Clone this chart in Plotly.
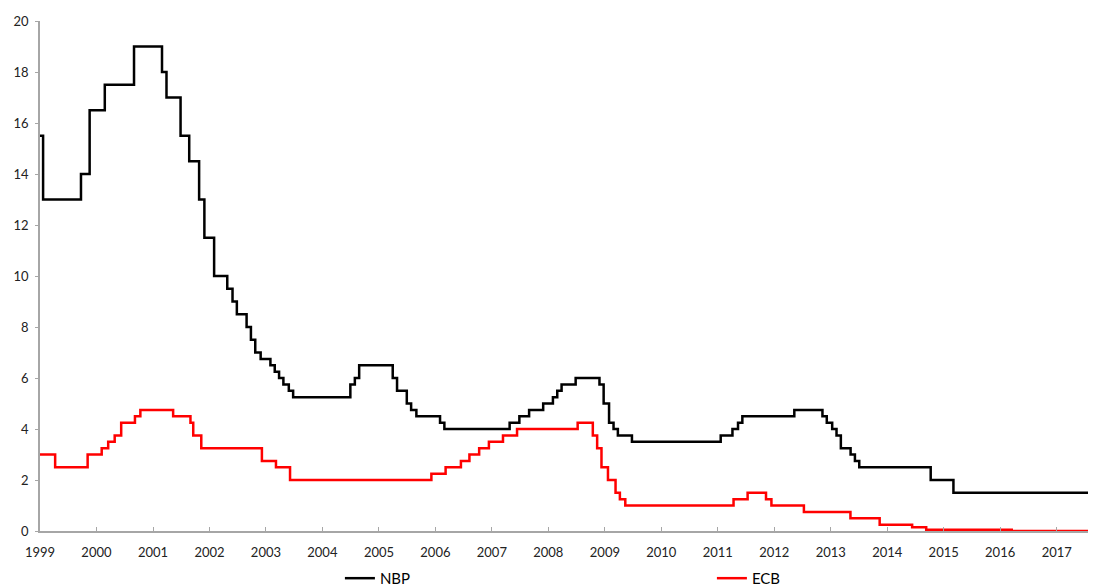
import plotly.graph_objects as go

# NBP reference rate (change dates and new levels)
nbp_dates = [
    "1999-01-01", "1999-01-21", "1999-09-23", "1999-11-18", "2000-02-24", "2000-08-31",
    "2001-02-28", "2001-03-29", "2001-06-28", "2001-08-23", "2001-10-26", "2001-11-29",
    "2002-01-31", "2002-04-26", "2002-05-30", "2002-06-27", "2002-08-29", "2002-09-26",
    "2002-10-24", "2002-11-28", "2003-01-30", "2003-02-27", "2003-03-27", "2003-04-24",
    "2003-05-29", "2003-06-26", "2004-06-30", "2004-07-29", "2004-08-26", "2005-03-31",
    "2005-04-28", "2005-06-30", "2005-07-28", "2005-08-31", "2006-01-31", "2006-02-28",
    "2007-04-26", "2007-06-28", "2007-08-30", "2007-11-29", "2008-01-31", "2008-02-28",
    "2008-03-27", "2008-06-26", "2008-11-27", "2008-12-24", "2009-01-28", "2009-02-26",
    "2009-03-26", "2009-06-25", "2011-01-20", "2011-04-06", "2011-05-12", "2011-06-09",
    "2012-05-10", "2012-11-08", "2012-12-06", "2013-01-10", "2013-02-07", "2013-03-07",
    "2013-05-09", "2013-06-06", "2013-07-04", "2014-10-09", "2015-03-05", "2017-09-15",
]
nbp_rates = [
    15.5, 13.0, 14.0, 16.5, 17.5, 19.0,
    18.0, 17.0, 15.5, 14.5, 13.0, 11.5,
    10.0, 9.5, 9.0, 8.5, 8.0, 7.5,
    7.0, 6.75, 6.5, 6.25, 6.0, 5.75,
    5.5, 5.25, 5.75, 6.0, 6.5, 6.0,
    5.5, 5.0, 4.75, 4.5, 4.25, 4.0,
    4.25, 4.5, 4.75, 5.0, 5.25, 5.5,
    5.75, 6.0, 5.75, 5.0, 4.25, 4.0,
    3.75, 3.5, 3.75, 4.0, 4.25, 4.5,
    4.75, 4.5, 4.25, 4.0, 3.75, 3.25,
    3.0, 2.75, 2.5, 2.0, 1.5, 1.5,
]

# ECB main refinancing rate
ecb_dates = [
    "1999-01-01", "1999-04-09", "1999-11-05", "2000-02-04", "2000-03-17", "2000-04-28",
    "2000-06-09", "2000-09-06", "2000-10-11", "2001-05-11", "2001-08-31", "2001-09-18",
    "2001-11-09", "2002-12-06", "2003-03-07", "2003-06-06", "2005-12-06", "2006-03-08",
    "2006-06-15", "2006-08-09", "2006-10-11", "2006-12-13", "2007-03-14", "2007-06-13",
    "2008-07-09", "2008-10-15", "2008-11-12", "2008-12-10", "2009-01-21", "2009-03-11",
    "2009-04-08", "2009-05-13", "2011-04-13", "2011-07-13", "2011-11-09", "2011-12-14",
    "2012-07-11", "2013-05-08", "2013-11-13", "2014-06-11", "2014-09-10", "2016-03-16",
    "2017-09-15",
]
ecb_rates = [
    3.0, 2.5, 3.0, 3.25, 3.5, 3.75,
    4.25, 4.5, 4.75, 4.5, 4.25, 3.75,
    3.25, 2.75, 2.5, 2.0, 2.25, 2.5,
    2.75, 3.0, 3.25, 3.5, 3.75, 4.0,
    4.25, 3.75, 3.25, 2.5, 2.0, 1.5,
    1.25, 1.0, 1.25, 1.5, 1.25, 1.0,
    0.75, 0.5, 0.25, 0.15, 0.05, 0.0,
    0.0,
]

year_ticks = [f"{y}-01-01" for y in range(1999, 2018)]
year_labels = [str(y) for y in range(1999, 2018)]

FONT = "Lato, 'Open Sans', sans-serif"

fig = go.Figure()
fig.add_trace(go.Scatter(x=nbp_dates, y=nbp_rates, name="NBP", mode="lines",
                         line=dict(color="#000000", width=2.5, shape="hv")))
fig.add_trace(go.Scatter(x=ecb_dates, y=ecb_rates, name="ECB", mode="lines",
                         line=dict(color="#ff0000", width=2.5, shape="hv")))

# page body has an 8px margin, so the figure is 8px smaller than the window
fig.update_layout(
    width=1088, height=580,
    plot_bgcolor="white", paper_bgcolor="white",
    margin=dict(l=32, r=0, t=13, b=57, autoexpand=False),
    font=dict(family=FONT, size=13, color="#222222"),
    showlegend=True,
    legend=dict(orientation="h", x=0.284, xanchor="left", y=-0.093, yanchor="middle",
                entrywidth=327, font=dict(size=15, color="#000000"),
                bgcolor="rgba(0,0,0,0)"),
)
fig.update_xaxes(
    range=["1999-01-01", "2017-09-12"],
    tickvals=year_ticks, ticktext=year_labels,
    showgrid=False, zeroline=False, automargin=False,
    showline=True, linecolor="#a6a6a6", linewidth=1.5,
    ticks="inside", ticklen=4, tickcolor="#a6a6a6",
    ticklabelstandoff=9,
)
fig.update_yaxes(
    range=[0, 20], dtick=2,
    showgrid=False, zeroline=False, automargin=False,
    showline=True, linecolor="#a6a6a6", linewidth=1.5,
    ticks="outside", ticklen=3, tickcolor="#a6a6a6",
    ticklabelstandoff=4,
)

fig.write_html("out.html")
